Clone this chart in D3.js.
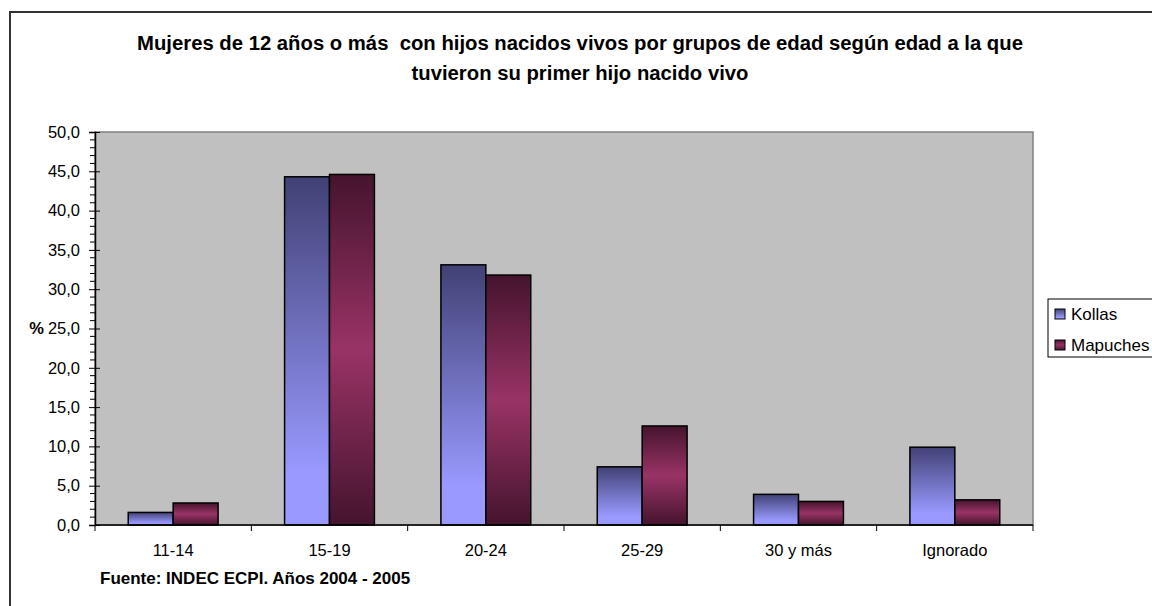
<!DOCTYPE html>
<html>
<head>
<meta charset="utf-8">
<script src="https://cdn.jsdelivr.net/npm/d3@7"></script>
<style>
  body { margin: 0; background: #fff; }
  text { font-family: "Liberation Sans", Arial, sans-serif; fill: #000; white-space: pre; }
</style>
</head>
<body>
<div id="chart"></div>
<script>
// data
const categories = ["11-14", "15-19", "20-24", "25-29", "30 y más", "Ignorado"];
const kollas = [1.6, 44.3, 33.1, 7.4, 3.9, 9.9];
const mapuches = [2.8, 44.6, 31.8, 12.6, 3.0, 3.2];
const seriesNames = ["Kollas", "Mapuches"];
const yTicks = [0, 5, 10, 15, 20, 25, 30, 35, 40, 45, 50];

const width = 1152,
  height = 606,
  margin = { top: 132, bottom: 81, left: 95, right: 119 };

const svg = d3.select("#chart")
  .append("svg")
  .attr("width", width)
  .attr("height", height);

const defs = svg.append("defs");

const gK = defs.append("linearGradient")
  .attr("id", "gradK").attr("x1", 0).attr("y1", 0).attr("x2", 0).attr("y2", 1);
gK.append("stop").attr("offset", "0%").attr("stop-color", "#414175");
gK.append("stop").attr("offset", "85%").attr("stop-color", "#9999ff");
gK.append("stop").attr("offset", "100%").attr("stop-color", "#9999ff");

const gM = defs.append("linearGradient")
  .attr("id", "gradM").attr("x1", 0).attr("y1", 0).attr("x2", 0).attr("y2", 1);
gM.append("stop").attr("offset", "0%").attr("stop-color", "#45142d");
gM.append("stop").attr("offset", "50%").attr("stop-color", "#993366");
gM.append("stop").attr("offset", "100%").attr("stop-color", "#45142d");

const fills = ["url(#gradK)", "url(#gradM)"];

// outer chart frame (runs off the right and bottom edge like the original)
svg.append("rect")
  .attr("x", 10).attr("y", 12)
  .attr("width", 1170).attr("height", 620)
  .attr("fill", "#fff")
  .attr("stroke", "#333")
  .attr("stroke-width", 2);

// title
const title = svg.append("text")
  .attr("text-anchor", "middle")
  .attr("font-weight", "bold")
  .attr("font-size", 20.3);
title.append("tspan").attr("x", 580).attr("y", 50)
  .text("Mujeres de 12 años o más  con hijos nacidos vivos por grupos de edad según edad a la que");
title.append("tspan").attr("x", 580).attr("y", 80)
  .text("tuvieron su primer hijo nacido vivo");

// SCALES
const xScale = d3.scaleBand()
  .domain(categories)
  .range([margin.left, width - margin.right]);

const xInner = d3.scaleBand()
  .domain(seriesNames)
  .range([0, xScale.bandwidth()])
  .paddingInner(0)
  .paddingOuter(0.74);

const yScale = d3.scaleLinear()
  .domain([0, 50])
  .range([height - margin.bottom, margin.top]);

// plot area
svg.append("rect")
  .attr("x", margin.left)
  .attr("y", margin.top)
  .attr("width", width - margin.right - margin.left)
  .attr("height", height - margin.bottom - margin.top)
  .attr("fill", "#c0c0c0")
  .attr("stroke", "#808080")
  .attr("stroke-width", 1.5);

// minor ticks
const minor = d3.range(0, 51, 1).filter(d => d % 5 !== 0);
svg.append("g")
  .selectAll("line")
  .data(minor)
  .join("line")
  .attr("x1", margin.left - 5)
  .attr("x2", margin.left)
  .attr("y1", d => yScale(d))
  .attr("y2", d => yScale(d))
  .attr("stroke", "#000");

// y axis
const yAxis = d3.axisLeft(yScale)
  .tickValues(yTicks)
  .tickSize(6)
  .tickPadding(9)
  .tickFormat(d => d3.format(".1f")(d).replace(".", ","));

const yG = svg.append("g")
  .attr("transform", `translate(${margin.left},0)`)
  .call(yAxis);
yG.select(".domain").attr("stroke", "#000").attr("stroke-width", 1.5);
yG.selectAll(".tick line").attr("x2", -6).attr("x1", 5).attr("stroke", "#000");
yG.selectAll(".tick text")
  .attr("font-size", 16.5)
  .attr("font-family", "Liberation Sans, Arial, sans-serif")
  .attr("fill", "#000");

svg.append("text")
  .attr("x", 44)
  .attr("y", yScale(25))
  .attr("dy", "0.35em")
  .attr("text-anchor", "end")
  .attr("font-weight", "bold")
  .attr("font-size", 16.5)
  .text("%");

// bars
const groups = svg.append("g")
  .selectAll("g")
  .data(categories)
  .join("g")
  .attr("transform", d => `translate(${xScale(d)},0)`);

groups.selectAll("rect")
  .data((d, i) => [
    { key: "Kollas", value: kollas[i], s: 0 },
    { key: "Mapuches", value: mapuches[i], s: 1 }
  ])
  .join("rect")
  .attr("x", d => xInner(d.key))
  .attr("width", xInner.bandwidth())
  .attr("y", d => yScale(d.value))
  .attr("height", d => yScale(0) - yScale(d.value))
  .attr("fill", d => fills[d.s])
  .attr("stroke", "#000")
  .attr("stroke-width", 1.5);

// x axis
const x0 = yScale(0);
svg.append("line")
  .attr("x1", margin.left).attr("x2", width - margin.right)
  .attr("y1", x0).attr("y2", x0)
  .attr("stroke", "#000").attr("stroke-width", 1.5);

const bounds = categories.map(c => xScale(c)).concat([xScale.range()[1]]);
svg.append("g")
  .selectAll("line")
  .data(bounds)
  .join("line")
  .attr("x1", d => d).attr("x2", d => d)
  .attr("y1", x0).attr("y2", x0 + 6)
  .attr("stroke", "#000");

svg.append("g")
  .selectAll("text")
  .data(categories)
  .join("text")
  .attr("x", d => xScale(d) + xScale.bandwidth() / 2)
  .attr("y", x0 + 31)
  .attr("text-anchor", "middle")
  .attr("font-size", 16.5)
  .text(d => d);

// footer
svg.append("text")
  .attr("x", 100)
  .attr("y", 584)
  .attr("font-weight", "bold")
  .attr("font-size", 17)
  .text("Fuente: INDEC ECPI. Años 2004 - 2005");

// legend
const legend = svg.append("g").attr("transform", "translate(1048,299)");
legend.append("rect")
  .attr("width", 130).attr("height", 58)
  .attr("fill", "#fff").attr("stroke", "#000");
const items = legend.selectAll("g")
  .data(seriesNames)
  .join("g")
  .attr("transform", (d, i) => `translate(0,${15 + i * 31})`);
items.append("rect")
  .attr("x", 7).attr("y", -5)
  .attr("width", 10).attr("height", 10)
  .attr("fill", (d, i) => fills[i])
  .attr("stroke", "#000");
items.append("text")
  .attr("x", 23)
  .attr("dy", "0.35em")
  .attr("font-size", 17)
  .text(d => d);
</script>
</body>
</html>
